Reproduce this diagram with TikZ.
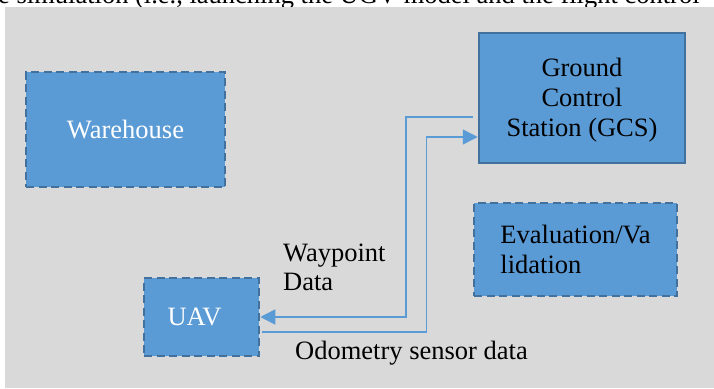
\documentclass[tikz,border=0pt]{standalone}
\usepackage{fontspec}
\setmainfont{Liberation Serif}
\usetikzlibrary{arrows.meta}
\definecolor{panel}{HTML}{D9D9D9}
\definecolor{boxfill}{HTML}{5B9BD5}
\definecolor{boxline}{HTML}{41719C}
\tikzset{
  blk/.style={draw=boxline, fill=boxfill, line width=2.5pt, inner sep=0pt,
    font=\fontsize{26.5}{30}\selectfont},
  dashblk/.style={blk, dash pattern=on 8pt off 4.5pt},
  flow/.style={draw=boxfill, line width=1.5pt,
    -{Triangle[length=15pt,width=15pt]}},
  lbl/.style={font=\fontsize{26.5}{29.5}\selectfont, inner sep=0pt}
}
\begin{document}
\begin{tikzpicture}[x=1pt,y=-1pt]
\useasboundingbox (0,0) rectangle (714,388);
% page strip with the foot of the preceding text line
\fill[white] (0,0) rectangle (714,388);
\begin{scope}
  \clip (0,0) rectangle (714,6);
  \node[anchor=base west, inner sep=0pt, font=\fontsize{26.5}{30}\selectfont]
    (prose) at (-2,3.5) {e simulation (i.e., launching the UGV model and the flight control};
\end{scope}
\fill[panel] (5,7) rectangle (714,388);

% blocks
\node[dashblk, minimum width=199pt, minimum height=115pt, text=white]
  (wh) at (125.5,129.5) {Warehouse};
\node[blk, minimum width=206pt, minimum height=130pt, align=center]
  (gcs) at (582,98) {\rule{0pt}{23.5pt}Ground\\Control\\Station (GCS)};
\node[dashblk, minimum width=203pt, minimum height=93pt, align=left]
  (ev) at (575.5,249.5) {Evaluation/Va\\lidation};
\node[dashblk, minimum width=115pt, minimum height=78pt, text=white]
  (uav) at (201.5,317) {\hspace*{-14pt}UAV};

% data links
\coordinate (wpS) at ([xshift=-5pt,yshift=-19pt]gcs.west);
\coordinate (odS) at ([xshift=2pt,yshift=-15pt]uav.east);
\draw[flow] (wpS) -- ++(-67,0) |- (uav.east);
\draw[flow] (odS) -- ++(164,0) |- ([yshift=-39pt]gcs.west);

% link labels
\node[lbl, anchor=base west] (wplbl) at (283,261) {Waypoint};
\node[lbl, anchor=base west] (dtlbl) at (283,290) {Data};
\node[lbl, anchor=base west] (odlbl) at (295,359) {Odometry sensor data};
\end{tikzpicture}
\end{document}
